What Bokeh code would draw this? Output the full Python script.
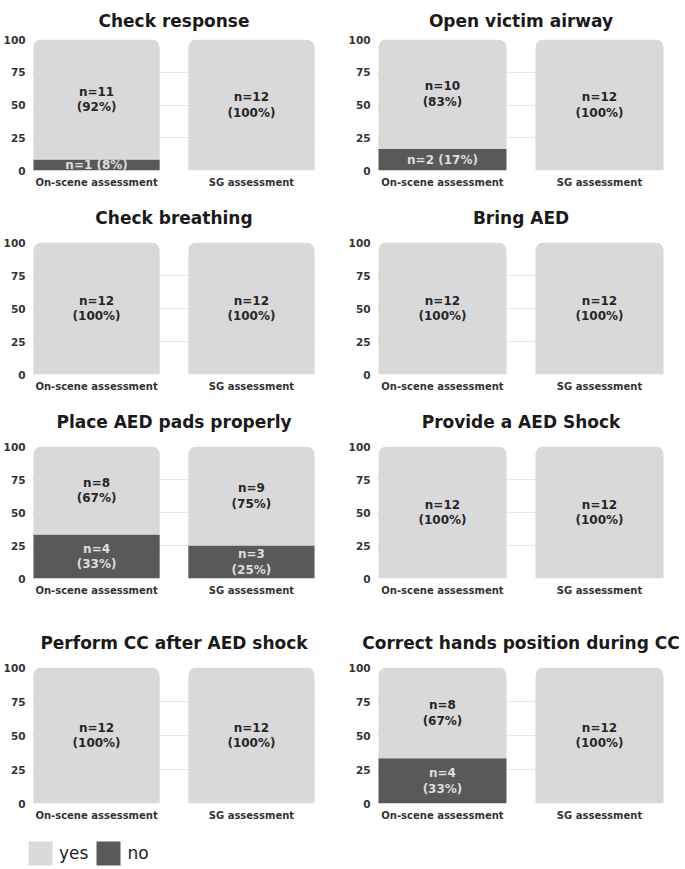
from bokeh.plotting import figure
from bokeh.models import FactorRange, ColumnDataSource, FixedTicker, Legend, LegendItem, Range1d
from bokeh.layouts import column, row
from bokeh.embed import file_html
from bokeh.resources import INLINE
from bokeh.core.properties import value

# ---------------- data ----------------
titles = ["Check response", "Open victim airway", "Check breathing", "Bring AED",
          "Place AED pads properly", "Provide a AED Shock",
          "Perform CC after AED shock", "Correct hands position during CC"]
groups = ["On-scene assessment", "SG assessment"]
yes_onscene = [11, 10, 12, 12, 8, 12, 12, 8]
no_onscene = [1, 2, 0, 0, 4, 0, 0, 4]
yes_sg = [12, 12, 12, 12, 9, 12, 12, 12]
no_sg = [0, 0, 0, 0, 3, 0, 0, 0]
y_ticks = [0, 25, 50, 75, 100]
legend_labels = ["yes", "no"]

# ---------------- style ----------------
YES_COLOR = "#d9d9d9"
NO_COLOR = "#595959"
FONT = "DejaVu Sans"

row_heights = [192, 204, 221, 208]
row_top = [39, 50, 50, 50]
row_bottom = [22, 22, 39, 22]
title_standoff = [14, 25, 25, 25]
col_widths = [340, 345]
col_left = [30, 36]
col_right = [24, 20]


def label(n, pct):
    if pct < 20:
        return f"n={n} ({pct}%)"
    return f"n={n}\n({pct}%)"


def make_panel(i):
    r, c = divmod(i, 2)
    yes = [yes_onscene[i], yes_sg[i]]
    no = [no_onscene[i], no_sg[i]]
    tot = [a + b for a, b in zip(yes, no)]
    no_top = [100.0 * b / t for b, t in zip(no, tot)]
    yes_top = [100.0 for _ in tot]

    p = figure(x_range=FactorRange(factors=groups, factor_padding=0.19, range_padding=0),
               y_range=Range1d(0, 100),
               width=col_widths[c], height=row_heights[r],
               min_border_left=col_left[c], min_border_right=col_right[c],
               min_border_top=row_top[r], min_border_bottom=row_bottom[r],
               output_backend="svg", toolbar_location=None, tools="")
    p.outline_line_color = None
    p.background_fill_color = "white"
    p.border_fill_color = "white"

    src = ColumnDataSource(dict(x=groups, no_top=no_top, yes_top=yes_top))
    p.vbar(x="x", bottom=0, top="no_top", width=0.97, source=src,
           fill_color=NO_COLOR, line_color=None)
    p.vbar(x="x", bottom="no_top", top="yes_top", width=0.97, source=src,
           fill_color=YES_COLOR, line_color=None, border_radius=(8, 8, 0, 0))

    lx, ly, lt, lc = [], [], [], []
    for g, y_, n_, b_top, t in zip(groups, yes, no, no_top, tot):
        if y_ > 0:
            pct = round(100 * y_ / t)
            lx.append(g); ly.append((b_top + 100) / 2); lt.append(label(y_, pct)); lc.append("#262626")
        if n_ > 0:
            pct = round(100 * n_ / t)
            lx.append(g); ly.append(b_top / 2); lt.append(label(n_, pct)); lc.append("#dedede")
    lsrc = ColumnDataSource(dict(x=lx, y=ly, text=lt, color=lc))
    p.text(x="x", y="y", text="text", source=lsrc, text_color="color",
           text_align="center", text_baseline="middle",
           text_font=value(FONT), text_font_style="bold", text_font_size="12px",
           text_line_height=1.1)

    p.title.text = titles[i]
    p.title.align = "center"
    p.title.vertical_align = "top"
    p.title.text_font = FONT
    p.title.text_font_style = "bold"
    p.title.text_font_size = "17px"
    p.title.text_color = "#1a1a1a"
    p.title.standoff = title_standoff[r]

    p.yaxis.ticker = FixedTicker(ticks=y_ticks)
    p.ygrid.ticker = FixedTicker(ticks=y_ticks)
    p.ygrid.grid_line_color = "#e8e8e8"
    p.xgrid.grid_line_color = None
    for ax in (p.xaxis, p.yaxis):
        ax.axis_line_color = None
        ax.major_tick_line_color = None
        ax.minor_tick_line_color = None
        ax.major_tick_out = 0
        ax.major_tick_in = 0
        ax.major_label_text_font = FONT
        ax.major_label_text_font_style = "bold"
        ax.major_label_text_color = "#333333"
    p.yaxis.major_label_text_font_size = "10.5px"
    p.yaxis.major_label_standoff = 6
    p.xaxis.major_label_text_font_size = "10px"
    p.xaxis.major_label_standoff = 6
    return p


panels = [make_panel(i) for i in range(8)]

# legend strip
lf = figure(width=685, height=44, x_range=Range1d(0, 1), y_range=Range1d(0, 1),
            x_axis_type=None, y_axis_type=None, output_backend="svg",
            toolbar_location=None, tools="", min_border=0)
lf.outline_line_color = None
lf.xgrid.grid_line_color = None
lf.ygrid.grid_line_color = None
lf.border_fill_color = "white"
r_yes = lf.vbar(x=[0.5], top=[0], bottom=[0], width=0.1, fill_color=YES_COLOR, line_color=None)
r_no = lf.vbar(x=[0.5], top=[0], bottom=[0], width=0.1, fill_color=NO_COLOR, line_color=None)
legend = Legend(items=[LegendItem(label=legend_labels[0], renderers=[r_yes]),
                       LegendItem(label=legend_labels[1], renderers=[r_no])],
                orientation="horizontal", location=(25, 1),
                glyph_width=30, glyph_height=30, label_standoff=4, spacing=5,
                padding=0, margin=0, border_line_color=None, background_fill_alpha=0,
                label_text_font=FONT, label_text_font_size="17px",
                label_text_color="#222222")
lf.add_layout(legend)

layout = column(row(panels[0], panels[1]), row(panels[2], panels[3]),
                row(panels[4], panels[5]), row(panels[6], panels[7]), lf)

open("out.html", "w").write(file_html(layout, INLINE))
